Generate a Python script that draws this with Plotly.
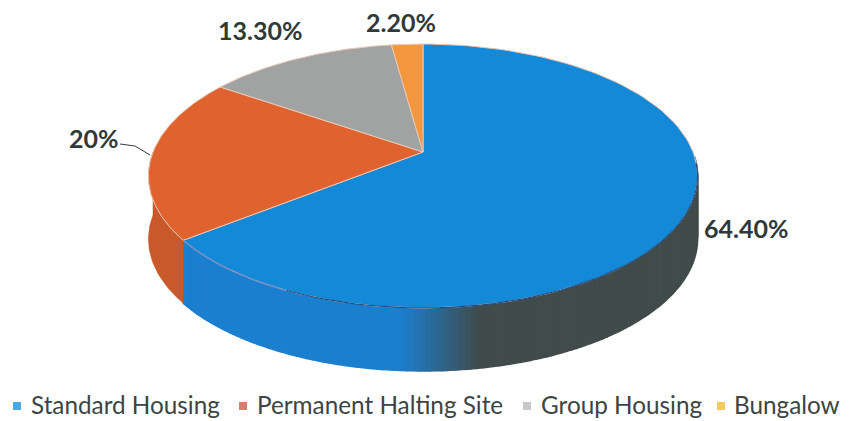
import numpy as np
import plotly.graph_objects as go

categories = ["Standard Housing", "Permanent Halting Site", "Group Housing", "Bungalow"]
values = [64.4, 20.0, 13.3, 2.2]
value_labels = ["64.40%", "20%", "13.30%", "2.20%"]
top_colors = ["#1489d8", "#e0622f", "#a1a3a3", "#f2973d"]
wall_colors = ["#1b7fcf", "#c9592b"]
legend_colors = ["#4aa8e0", "#e07a70", "#c8c8c8", "#f5c860"]
label_xy = [(746, 228), (94, 138), (260, 30), (401, 22)]
legend_mark_x = [17, 243, 527, 721]
legend_text_x = [29, 255, 539, 732]

FONT = "Lato, Carlito, 'Open Sans', sans-serif"
INK = "#2f3a38"

# view of the disc
CX, CY, RX, RY, K, DEPTH = 423.0, 152.0, 270.0, 127.6, 0.1818, 63.0


def project(theta_deg):
    """Clockwise angle from 12 o'clock to a point on the tilted disc's rim."""
    t = np.radians(theta_deg)
    u, w = np.sin(t), -np.cos(t)
    d = 1 - K * w
    return CX + RX * u / d, CY + RY * w / d


fractions = np.array(values) / sum(values)
edges = np.concatenate([[0], np.cumsum(fractions)]) * 360

fig = go.Figure()


def polygon(xs, ys, color, line=None, width=1.5):
    fig.add_trace(go.Scatter(
        x=xs, y=ys, mode="lines", fill="toself", fillcolor=color,
        line=dict(color=line or color, width=width),
        hoverinfo="skip", showlegend=False))


def mix(c1, c2, f):
    a = [int(c1[i:i + 2], 16) for i in (1, 3, 5)]
    b = [int(c2[i:i + 2], 16) for i in (1, 3, 5)]
    return "rgb(%d,%d,%d)" % tuple(round(p + (q - p) * f) for p, q in zip(a, b))


# side wall of the largest slice, blue fading into shadow on the right
DARK = "#404b4a"
wall_a = np.linspace(92, edges[1], 140)
for a0, a1 in zip(wall_a[:-1], wall_a[1:]):
    t = np.linspace(a0, a1, 3)
    x, y = project(t)
    f = np.clip((x.mean() - 400) / 80, 0, 1)
    polygon(np.r_[x, x[::-1]], np.r_[y, y[::-1] + DEPTH], mix(wall_colors[0], DARK, f))

# side wall of the second slice
t = np.linspace(edges[1], 270, 30)
x, y = project(t)
polygon(np.r_[x, x[::-1]], np.r_[y, y[::-1] + DEPTH], wall_colors[1], width=0.5)

# top faces
for i, color in enumerate(top_colors):
    t = np.linspace(edges[i], edges[i + 1], 120)
    x, y = project(t)
    polygon(np.r_[CX, x, CX], np.r_[CY, y, CY], color, line="#e9c8b4", width=1)

# coloured rim along the front edge of the blue wall
t = np.linspace(edges[1], 205, 40)
x, y = project(t)
fig.add_trace(go.Scatter(x=x, y=y, mode="lines", line=dict(color="#6f8fc8", width=1.5),
                         hoverinfo="skip", showlegend=False))
t = np.linspace(95, 205, 60)
x, y = project(t)
fig.add_trace(go.Scatter(x=x, y=y, mode="lines", line=dict(color="#1d4f86", width=1.2),
                         hoverinfo="skip", showlegend=False))

# legend keys and labels
for mx, tx, name, color in zip(legend_mark_x, legend_text_x, categories, legend_colors):
    fig.add_trace(go.Scatter(x=[mx], y=[406], mode="markers", hoverinfo="skip", showlegend=False,
                             marker=dict(symbol="square", size=8, color=color, line=dict(width=0))))
    fig.add_annotation(x=tx, y=404, text=name, showarrow=False, xanchor="left",
                       font=dict(family=FONT, size=24.3, color="#3c4544"))

# value labels
for text, (lx, ly) in zip(value_labels, label_xy):
    fig.add_annotation(x=lx, y=ly, text=text, showarrow=False,
                       font=dict(family=FONT, size=25, color=INK, weight="bold"))

# leader line for the 20% label
fig.add_trace(go.Scatter(x=[120, 135, 150], y=[144, 146, 155], mode="lines",
                         line=dict(color="#3a3a3a", width=1), hoverinfo="skip", showlegend=False))

fig.update_layout(
    width=856, height=421, margin=dict(l=0, r=0, t=0, b=0),
    paper_bgcolor="white", plot_bgcolor="white", showlegend=False,
    xaxis=dict(range=[0, 856], visible=False, fixedrange=True),
    yaxis=dict(range=[421, 0], visible=False, fixedrange=True),
)
fig.write_html("out.html", config=dict(displayModeBar=False),
               post_script="document.body.style.margin='0';")
